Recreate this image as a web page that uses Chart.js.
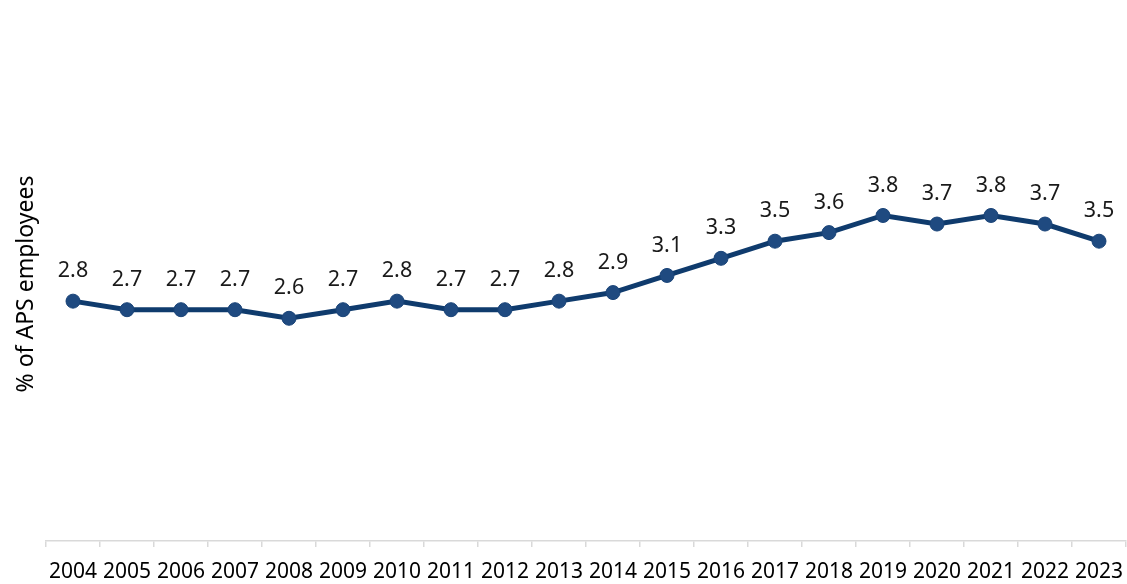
<!DOCTYPE html>
<html>
<head>
<meta charset="utf-8">
<script src="https://cdn.jsdelivr.net/npm/chart.js@4"></script>
<style>
html,body{margin:0;padding:0;background:#fff;}
#wrap{width:1127px;height:584px;position:relative;}
</style>
</head>
<body>
<div id="wrap"><canvas id="c" width="1127" height="584"></canvas></div>
<script>
const years = ['2004','2005','2006','2007','2008','2009','2010','2011','2012','2013','2014','2015','2016','2017','2018','2019','2020','2021','2022','2023'];
const values = [2.8,2.7,2.7,2.7,2.6,2.7,2.8,2.7,2.7,2.8,2.9,3.1,3.3,3.5,3.6,3.8,3.7,3.8,3.7,3.5];
const yTitle = '% of APS employees';

const FONT = "'Noto Sans', 'Open Sans', sans-serif";

const labelPlugin = {
  id: 'pointLabels',
  afterDatasetsDraw(chart) {
    const ctx = chart.ctx;
    const meta = chart.getDatasetMeta(0);
    ctx.save();
    ctx.font = "21.5px " + FONT;
    ctx.fillStyle = '#1a1a1a';
    ctx.textAlign = 'center';
    ctx.textBaseline = 'middle';
    meta.data.forEach((pt, i) => {
      ctx.fillText(values[i].toFixed(1), pt.x, pt.y - 30);
    });
    ctx.restore();
  }
};

new Chart(document.getElementById('c'), {
  type: 'line',
  data: {
    labels: years,
    datasets: [{
      data: values,
      borderColor: '#0f3b6d',
      borderWidth: 5,
      backgroundColor: '#1f4a80',
      pointBackgroundColor: '#1f4a80',
      pointBorderColor: '#1a4478',
      pointRadius: 7,
      pointBorderWidth: 1,
      tension: 0,
      clip: false
    }]
  },
  options: {
    responsive: false,
    animation: false,
    devicePixelRatio: 1,
    layout: { autoPadding: false, padding: { top: 27, right: 1, bottom: -13, left: 0 } },
    plugins: { legend: { display: false }, tooltip: { enabled: false } },
    scales: {
      x: {
        offset: true,
        grid: { display: true, drawOnChartArea: false, drawTicks: true, tickLength: 6, color: '#d9d9d9', offset: true, lineWidth: 1.5 },
        border: { display: true, color: '#d9d9d9', width: 1.5 },
        ticks: { color: '#000', font: { family: FONT, size: 21, lineHeight: 2.38 }, padding: 0, maxRotation: 0, autoSkip: false }
      },
      y: {
        min: 0, max: 6,
        grid: { display: false, drawTicks: false },
        border: { display: false },
        ticks: { display: false },
        title: { display: true, text: yTitle, color: '#000', font: { family: FONT, size: 23, lineHeight: 1.2 }, padding: { top: 13, bottom: 5.4 } }
      }
    }
  },
  plugins: [labelPlugin]
});
</script>
</body>
</html>
